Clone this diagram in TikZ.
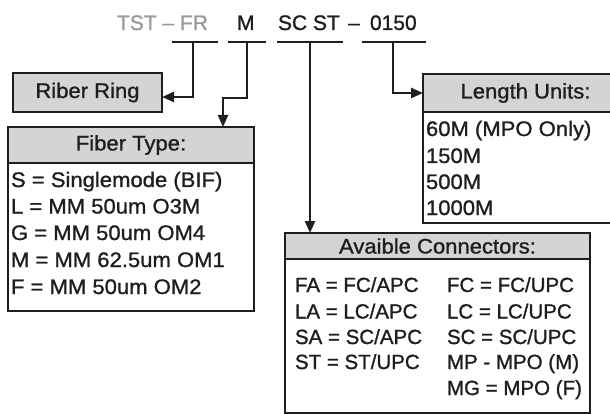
\documentclass[tikz,border=0pt]{standalone}
\usepackage{fontspec}
\setmainfont{Liberation Sans}
\newfontfamily\medfont{Liberation Sans}[FakeStretch=1.05,FakeBold=1.1]
\newfontfamily\codefont{Liberation Sans}[FakeBold=1.1]
\usetikzlibrary{arrows.meta}
\definecolor{ink}{HTML}{1E1E1E}
\definecolor{hdrgray}{HTML}{D4D4D4}
\definecolor{codegray}{HTML}{9A9A9A}
\begin{document}
\begin{tikzpicture}[x=1pt,y=-1pt,
  every node/.style={inner sep=0pt,outer sep=0pt,text=ink,font=\medfont\fontsize{21}{24}\selectfont},
  hdr/.style={draw=ink,line width=2pt,fill=hdrgray,rectangle,anchor=north west},
  bodybox/.style={draw=ink,line width=2pt,fill=white,rectangle,anchor=north west},
  row/.style={anchor=base west},
  crow/.style={anchor=base west,font=\codefont\fontsize{20.5}{24}\selectfont},
  code/.style={anchor=base west,font=\codefont\fontsize{21}{24}\selectfont},
  uline/.style={draw=ink,line width=2.6pt},
  conn/.style={draw=ink,line width=2.4pt,-{Triangle[length=12pt,width=10pt]}}
]
\useasboundingbox (0,0) rectangle (610,414);

% code line
\node[code,text=codegray] (c1) at (117,30) {TST – FR};
\node[code] (c2) at (237,30) {M};
\node[code] (c3) at (278,30) {SC ST};
\node[code,anchor=base] (c4) at (354,30) {–};
\node[code] (c5) at (370,30) {0150};

% underlines
\draw[uline] (172,42) -- (218,42);
\draw[uline] (228,42) -- (266,42);
\draw[uline] (277,42) -- (343,42);
\draw[uline] (362,42) -- (426,42);
\coordinate (u1) at (193,42);
\coordinate (u2) at (247,42);
\coordinate (u3) at (310,42);
\coordinate (u4) at (393,42);

% Riber Ring
\node[hdr,minimum width=149pt,minimum height=39pt] (rr) at (13,73) {Riber Ring};

% Fiber Type
\node[bodybox,minimum width=246pt,minimum height=184pt] (ftb) at (8,127) {};
\node[hdr,minimum width=246pt,minimum height=36pt] (fth) at (8,127) {Fiber Type:};
\node[row] (f1) at (11,187) {S = Singlemode (BIF)};
\node[row] (f2) at (11,213.5) {L = MM 50um O3M};
\node[row] (f3) at (11,240) {G = MM 50um OM4};
\node[row] (f4) at (11,267) {M = MM 62.5um OM1};
\node[row] (f5) at (11,294) {F = MM 50um OM2};

% Length Units
\node[bodybox,minimum width=195pt,minimum height=149pt] (lub) at (423,74) {};
\node[hdr,minimum width=195pt,minimum height=38pt] (luh) at (423,74) {\hspace*{10pt}Length Units:};
\node[row] (l1) at (426,136) {60M (MPO Only)};
\node[row] (l2) at (426,163) {150M};
\node[row] (l3) at (426,189) {500M};
\node[row] (l4) at (426,215) {1000M};

% Connectors
\node[bodybox,minimum width=305pt,minimum height=180pt] (acb) at (285,233) {};
\node[hdr,minimum width=305pt,minimum height=26pt] (ach) at (285,233) {Avaible Connectors:};
\node[crow] (a1) at (295,292) {FA = FC/APC};
\node[crow] (a2) at (295,318.5) {LA = LC/APC};
\node[crow] (a3) at (295,344) {SA = SC/APC};
\node[crow] (a4) at (295,369) {ST = ST/UPC};
\node[crow] (b1) at (447,292) {FC = FC/UPC};
\node[crow] (b2) at (447,318.5) {LC = LC/UPC};
\node[crow] (b3) at (447,344) {SC = SC/UPC};
\node[crow] (b4) at (447,369) {MP - MPO (M)};
\node[crow] (b5) at (447,395) {MG = MPO (F)};

% connectors
\draw[conn] (u1) |- (rr.east |- 0,97);
\draw[conn] (u2) |- (223,98) -- (fth.north -| 223,0);
\draw[conn] (u3) -- (ach.north -| u3);
\draw[conn] (u4) |- (luh.west |- 0,93);
\end{tikzpicture}
\end{document}
